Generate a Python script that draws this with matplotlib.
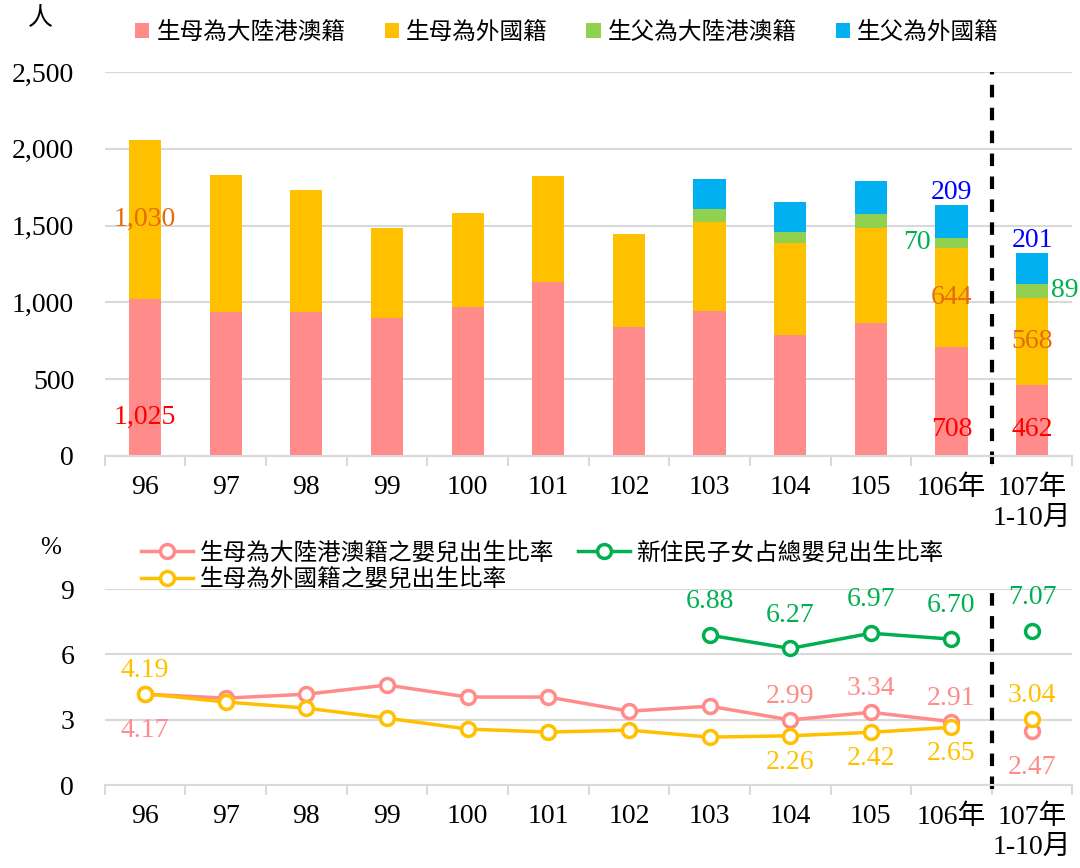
import matplotlib
matplotlib.use("Agg")
import matplotlib.pyplot as plt
from matplotlib.ticker import FuncFormatter, FixedLocator
import numpy as np

plt.rcParams['font.family'] = ['Liberation Serif', 'Noto Sans CJK TC']

# data
years = ['96', '97', '98', '99', '100', '101', '102', '103', '104', '105', '106年', '107年\n1-10月']
mother_mainland = [1025, 937, 935, 898, 970, 1133, 840, 944, 788, 866, 708, 462]
mother_foreign = [1030, 892, 797, 586, 612, 690, 605, 579, 599, 618, 644, 568]
father_mainland = [0, 0, 0, 0, 0, 0, 0, 85, 71, 92, 70, 89]
father_foreign = [0, 0, 0, 0, 0, 0, 0, 195, 196, 214, 209, 201]

rate_mainland = [4.17, 3.99, 4.17, 4.59, 4.04, 4.04, 3.39, 3.62, 2.99, 3.34, 2.91, 2.47]
rate_foreign = [4.19, 3.81, 3.53, 3.07, 2.57, 2.43, 2.52, 2.20, 2.26, 2.42, 2.65, 3.04]
rate_new = [None] * 7 + [6.88, 6.27, 6.97, 6.70, 7.07]

bar_labels = ['生母為大陸港澳籍', '生母為外國籍', '生父為大陸港澳籍', '生父為外國籍']
line_labels = ['生母為大陸港澳籍之嬰兒出生比率', '生母為外國籍之嬰兒出生比率', '新住民子女占總嬰兒出生比率']

c_red, c_yel, c_grn, c_blu = '#FF8B8B', '#FFC000', '#92D050', '#00B0F0'
c_lgrn = '#00B050'
grid_c = '#D9D9D9'
fs = 20

x = np.arange(len(years))

fig = plt.figure(figsize=(10.8, 8.68), dpi=100)
ax1 = fig.add_axes([0.097, 0.4747, 0.896, 0.4424])
ax2 = fig.add_axes([0.097, 0.0956, 0.896, 0.2258])


def style_axis(ax):
    ax.set_xlim(-0.5, len(years) - 0.5)
    for s in ['top', 'right', 'left']:
        ax.spines[s].set_visible(False)
    ax.spines['bottom'].set_color(grid_c)
    ax.spines['bottom'].set_linewidth(1.5)
    ax.yaxis.grid(True, color=grid_c, linewidth=1.5)
    ax.set_axisbelow(True)
    ax.tick_params(axis='y', length=0, pad=22, labelsize=fs)
    ax.set_xticks(x)
    ax.set_xticklabels(years, fontsize=fs, va='top', linespacing=1.25)
    ax.tick_params(axis='x', which='major', length=0, pad=14)
    ax.xaxis.set_minor_locator(FixedLocator(np.arange(-0.5, len(years), 1.0)))
    ax.tick_params(axis='x', which='minor', length=7, color=grid_c, width=1.5)
    ax.axvline(len(years) - 1.5, color='black', linestyle=(0, (3, 2.5)), linewidth=3,
               ymin=-0.02, ymax=1.0, clip_on=False)


# top: stacked bars
w = 0.4
b1 = np.array(mother_mainland)
b2 = b1 + np.array(mother_foreign)
b3 = b2 + np.array(father_mainland)
ax1.bar(x, mother_mainland, w, color=c_red, label=bar_labels[0])
ax1.bar(x, mother_foreign, w, bottom=b1, color=c_yel, label=bar_labels[1])
ax1.bar(x, father_mainland, w, bottom=b2, color=c_grn, label=bar_labels[2])
ax1.bar(x, father_foreign, w, bottom=b3, color=c_blu, label=bar_labels[3])
ax1.set_ylim(0, 2500)
ax1.set_yticks(range(0, 2501, 500))
ax1.yaxis.set_major_formatter(FuncFormatter(lambda v, p: f'{int(v):,}'))
style_axis(ax1)

for i, off in [(0, 19), (10, 10), (11, 10)]:
    ax1.annotate(f'{mother_mainland[i]:,}', (x[i], 0), xytext=(0, off), textcoords='offset points',
                 ha='center', va='bottom', color='#FF0000', fontsize=fs)
    ax1.text(x[i], b1[i] + mother_foreign[i] / 2, f'{mother_foreign[i]:,}', ha='center', va='center',
             color='#E46C0A', fontsize=fs)
ax1.annotate(f'{father_mainland[10]}', (x[10] - w / 2, b2[10] + father_mainland[10] / 2), xytext=(-3, 0),
             textcoords='offset points', ha='right', va='center', color=c_lgrn, fontsize=fs)
ax1.annotate(f'{father_mainland[11]}', (x[11] + w / 2, b2[11] + father_mainland[11] / 2), xytext=(2, 0),
             textcoords='offset points', ha='left', va='center', color=c_lgrn, fontsize=fs)
for i in [10, 11]:
    ax1.annotate(f'{father_foreign[i]}', (x[i], b3[i] + father_foreign[i]), xytext=(0, 0),
                 textcoords='offset points', ha='center', va='bottom', color='#0000FF', fontsize=fs)

fig.legend(loc='center', bbox_to_anchor=(0.525, 0.962), ncol=4, frameon=False, fontsize=17,
           handlelength=0.6, handleheight=0.6, handletextpad=0.3, columnspacing=1.65)

# bottom: lines
mk = dict(marker='o', markersize=10, markerfacecolor='white', markeredgewidth=2.5, linewidth=2.5)
n = len(years) - 1
ax2.plot(x[:n], rate_mainland[:n], color=c_red, label=line_labels[0], **mk)
ax2.plot(x[n], rate_mainland[n], color=c_red, **mk)
ax2.plot(x[:n], rate_foreign[:n], color=c_yel, label=line_labels[1], **mk)
ax2.plot(x[n], rate_foreign[n], color=c_yel, **mk)
ax2.plot(x[7:n], rate_new[7:n], color=c_lgrn, label=line_labels[2], **mk)
ax2.plot(x[n], rate_new[n], color=c_lgrn, **mk)
ax2.set_ylim(0, 9)
ax2.set_yticks([0, 3, 6, 9])
style_axis(ax2)


def lab(i, v, color, off):
    ax2.annotate(f'{v:.2f}', (x[i], v), xytext=(0, off), textcoords='offset points',
                 ha='center', va='bottom' if off > 0 else 'top', color=color, fontsize=fs)


lab(0, rate_mainland[0], c_red, -17)
lab(0, rate_foreign[0], c_yel, 8)
for i in [8, 9, 10]:
    lab(i, rate_mainland[i], c_red, 8)
    lab(i, rate_foreign[i], c_yel, -10)
lab(11, rate_mainland[11], c_red, -17)
lab(11, rate_foreign[11], c_yel, 8)
for i in range(7, 12):
    lab(i, rate_new[i], c_lgrn, 15)

ax2.legend(loc='upper left', bbox_to_anchor=(0.111, 0.4), bbox_transform=fig.transFigure, ncol=2,
           frameon=False, fontsize=17, handlelength=2.2, handletextpad=0.3, columnspacing=1.0,
           labelspacing=0.15)

fig.text(0.037, 0.979, '人', fontsize=18, ha='center', va='center')
fig.text(0.047, 0.369, '%', fontsize=18, ha='center', va='center')

fig.savefig('out.png', dpi=100)
